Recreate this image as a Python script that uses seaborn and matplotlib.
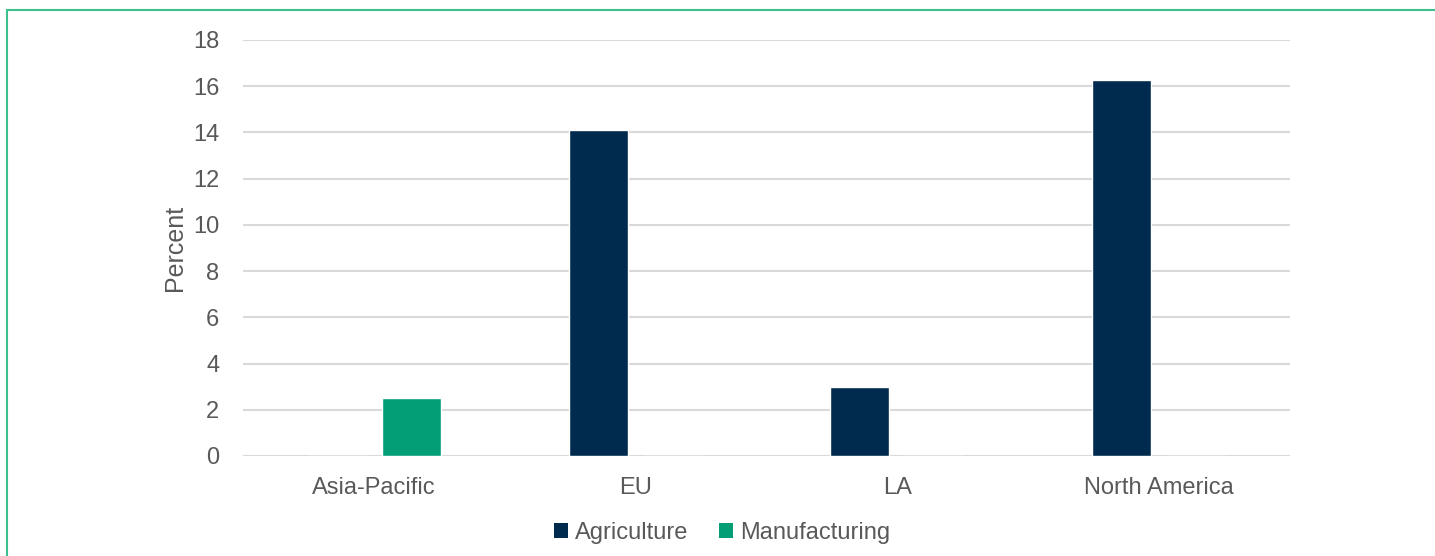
import matplotlib
matplotlib.use("Agg")
import matplotlib.pyplot as plt
import seaborn as sns
import pandas as pd
from matplotlib.patches import Rectangle, Patch

regions = ["Asia-Pacific", "EU", "LA", "North America"]
agriculture = [0, 14.1, 3.0, 16.25]
manufacturing = [2.5, 0, 0, 0]
sectors = ["Agriculture", "Manufacturing"]
colors = ["#002b4e", "#039e76"]

df = pd.DataFrame({
    "region": regions * 2,
    "sector": ["Agriculture"] * 4 + ["Manufacturing"] * 4,
    "value": agriculture + manufacturing,
})

sns.set_style("white")
plt.rcParams["font.family"] = ["Liberation Sans", "DejaVu Sans"]

fig = plt.figure(figsize=(14.35, 5.56), dpi=100)
ax = fig.add_axes([243 / 1435, 100 / 556, (1290 - 243) / 1435, 416 / 556])

sns.barplot(data=df, x="region", y="value", hue="sector", hue_order=sectors,
            palette=colors, width=0.573, gap=0.214, saturation=1, ax=ax)

ax.set_xlim(-0.5, 3.5)
ax.set_ylim(0, 18)
ax.set_yticks(range(0, 19, 2))
ax.grid(axis="y", color="#d9d9d9", linewidth=1.5)
ax.set_axisbelow(True)
for s in ax.spines.values():
    s.set_visible(False)
ax.tick_params(axis="both", length=0, labelsize=17, labelcolor="#595959")
ax.tick_params(axis="y", pad=17)
ax.tick_params(axis="x", pad=15)
ax.set_xlabel("")
ax.set_ylabel("Percent", fontsize=18, color="#595959", labelpad=4)

ax.get_legend().remove()
handles = [Patch(facecolor=c, edgecolor="none") for c in colors]
fig.legend(handles, sectors, loc="center", bbox_to_anchor=(722 / 1435, 1 - 533 / 556),
           ncol=2, frameon=False, fontsize=17, labelcolor="#595959",
           handlelength=0.6, handleheight=0.6, handletextpad=0.3, columnspacing=1.3)

# green frame line on top and left
fig.add_artist(Rectangle((7 / 1435, -0.2), 1.2, 0.2 + 546 / 556, transform=fig.transFigure,
                         fill=False, edgecolor="#3dbf8e", linewidth=1.5))

fig.savefig("out.png", dpi=100)
